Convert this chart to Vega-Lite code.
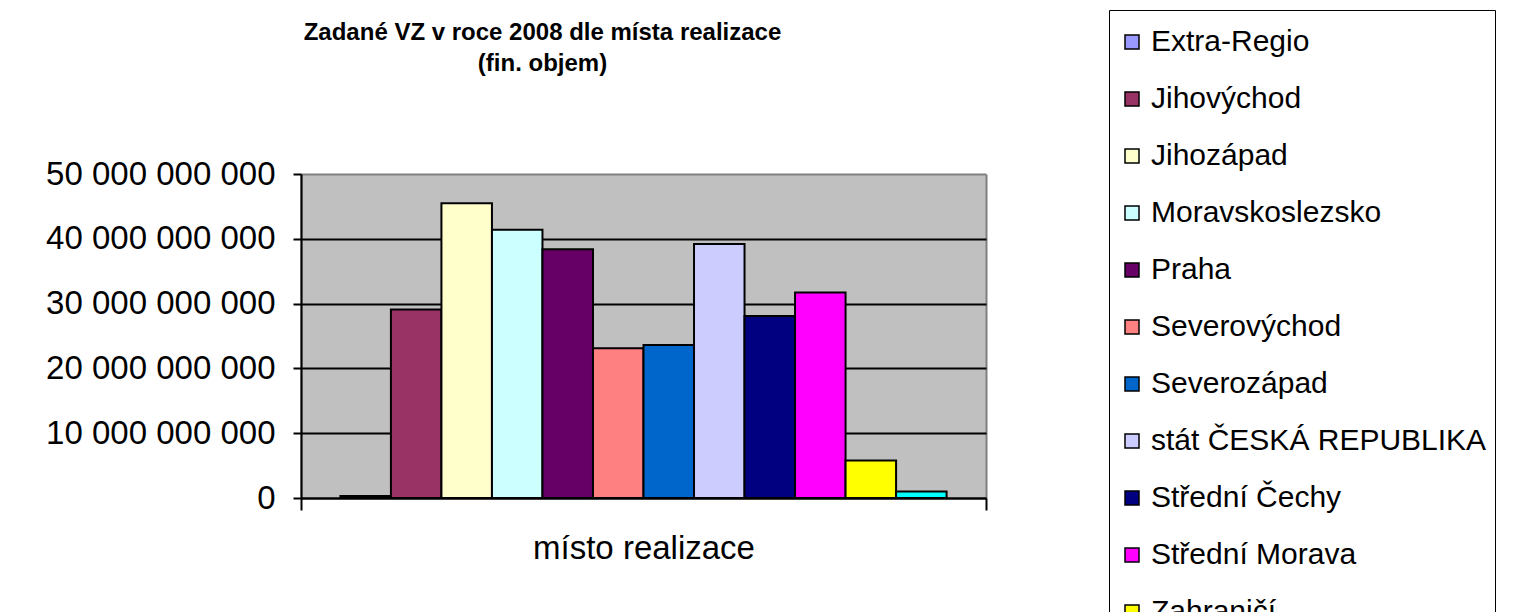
{
  "$schema": "https://vega.github.io/schema/vega-lite/v6.json",
  "autosize": {"type": "none"},
  "width": 685,
  "height": 324,
  "padding": {"left": 301, "top": 174, "right": 527, "bottom": 114},
  "background": "white",
  "title": {
    "text": ["Zadané VZ v roce 2008 dle místa realizace", "(fin. objem)"],
    "fontSize": 24,
    "fontWeight": "bold",
    "font": "Liberation Sans",
    "color": "black",
    "lineHeight": 31,
    "anchor": "middle",
    "frame": "group",
    "dx": -101,
    "dy": 70
  },
  "config": {
    "locale": {"number": {"decimal": ",", "thousands": " ", "grouping": [3], "currency": ["", " Kč"]}},
    "font": "Liberation Sans",
    "view": {"fill": "#C0C0C0", "stroke": null}
  },
  "data": {
    "values": [
      {"oblast": "místo realizace", "region": "Extra-Regio", "objem": 300000000},
      {"oblast": "místo realizace", "region": "Jihovýchod", "objem": 29100000000},
      {"oblast": "místo realizace", "region": "Jihozápad", "objem": 45500000000},
      {"oblast": "místo realizace", "region": "Moravskoslezsko", "objem": 41400000000},
      {"oblast": "místo realizace", "region": "Praha", "objem": 38400000000},
      {"oblast": "místo realizace", "region": "Severovýchod", "objem": 23100000000},
      {"oblast": "místo realizace", "region": "Severozápad", "objem": 23600000000},
      {"oblast": "místo realizace", "region": "stát ČESKÁ REPUBLIKA", "objem": 39200000000},
      {"oblast": "místo realizace", "region": "Střední Čechy", "objem": 28100000000},
      {"oblast": "místo realizace", "region": "Střední Morava", "objem": 31700000000},
      {"oblast": "místo realizace", "region": "Zahraničí", "objem": 5800000000},
      {"oblast": "místo realizace", "region": "neuvedeno", "objem": 1000000000}
    ]
  },
  "mark": {"type": "bar", "stroke": "black", "strokeWidth": 2},
  "encoding": {
    "x": {
      "field": "oblast",
      "type": "nominal",
      "scale": {"paddingInner": 0, "paddingOuter": 0},
      "axis": {
        "title": null,
        "labelAngle": 0,
        "labelFontSize": 33,
        "labelColor": "black",
        "labelPadding": 22,
        "labelLimit": 600,
        "tickBand": "extent",
        "tickSize": 12,
        "tickWidth": 2,
        "tickColor": "black",
        "domainColor": "black",
        "domainWidth": 2,
        "grid": true,
        "gridColor": "#808080",
        "gridWidth": 2
      }
    },
    "xOffset": {
      "field": "region",
      "type": "nominal",
      "sort": null,
      "scale": {"paddingInner": 0, "paddingOuter": 0.78}
    },
    "y": {
      "field": "objem",
      "type": "quantitative",
      "scale": {"domain": [0, 50000000000], "nice": false},
      "axis": {
        "title": null,
        "values": [0, 10000000000, 20000000000, 30000000000, 40000000000, 50000000000],
        "format": ",.0f",
        "labelFontSize": 33,
        "labelColor": "black",
        "labelPadding": 18,
        "labelLimit": 400,
        "tickSize": 8,
        "tickWidth": 2,
        "tickColor": "black",
        "domainColor": "black",
        "domainWidth": 2,
        "gridWidth": 2,
        "gridColor": {"condition": {"test": "datum.value === 50000000000", "value": "#808080"}, "value": "black"},
        "gridOpacity": 1
      }
    },
    "fill": {
      "field": "region",
      "type": "nominal",
      "sort": null,
      "scale": {
        "domain": ["Extra-Regio", "Jihovýchod", "Jihozápad", "Moravskoslezsko", "Praha", "Severovýchod", "Severozápad", "stát ČESKÁ REPUBLIKA", "Střední Čechy", "Střední Morava", "Zahraničí", "neuvedeno"],
        "range": ["#9999FF", "#993366", "#FFFFCC", "#CCFFFF", "#660066", "#FF8080", "#0066CC", "#CCCCFF", "#000080", "#FF00FF", "#FFFF00", "#00FFFF"]
      },
      "legend": {
        "title": " ",
        "titleFontSize": 6,
        "titlePadding": 3,
        "orient": "none",
        "legendX": 808,
        "legendY": -164,
        "fillColor": "white",
        "strokeColor": "black",
        "padding": 8,
        "symbolType": "square",
        "symbolSize": 196,
        "symbolStrokeColor": "black",
        "symbolStrokeWidth": 1.5,
        "labelFontSize": 30,
        "labelColor": "black",
        "labelOffset": 4,
        "labelLimit": 500,
        "rowPadding": 27
      }
    }
  }
}
